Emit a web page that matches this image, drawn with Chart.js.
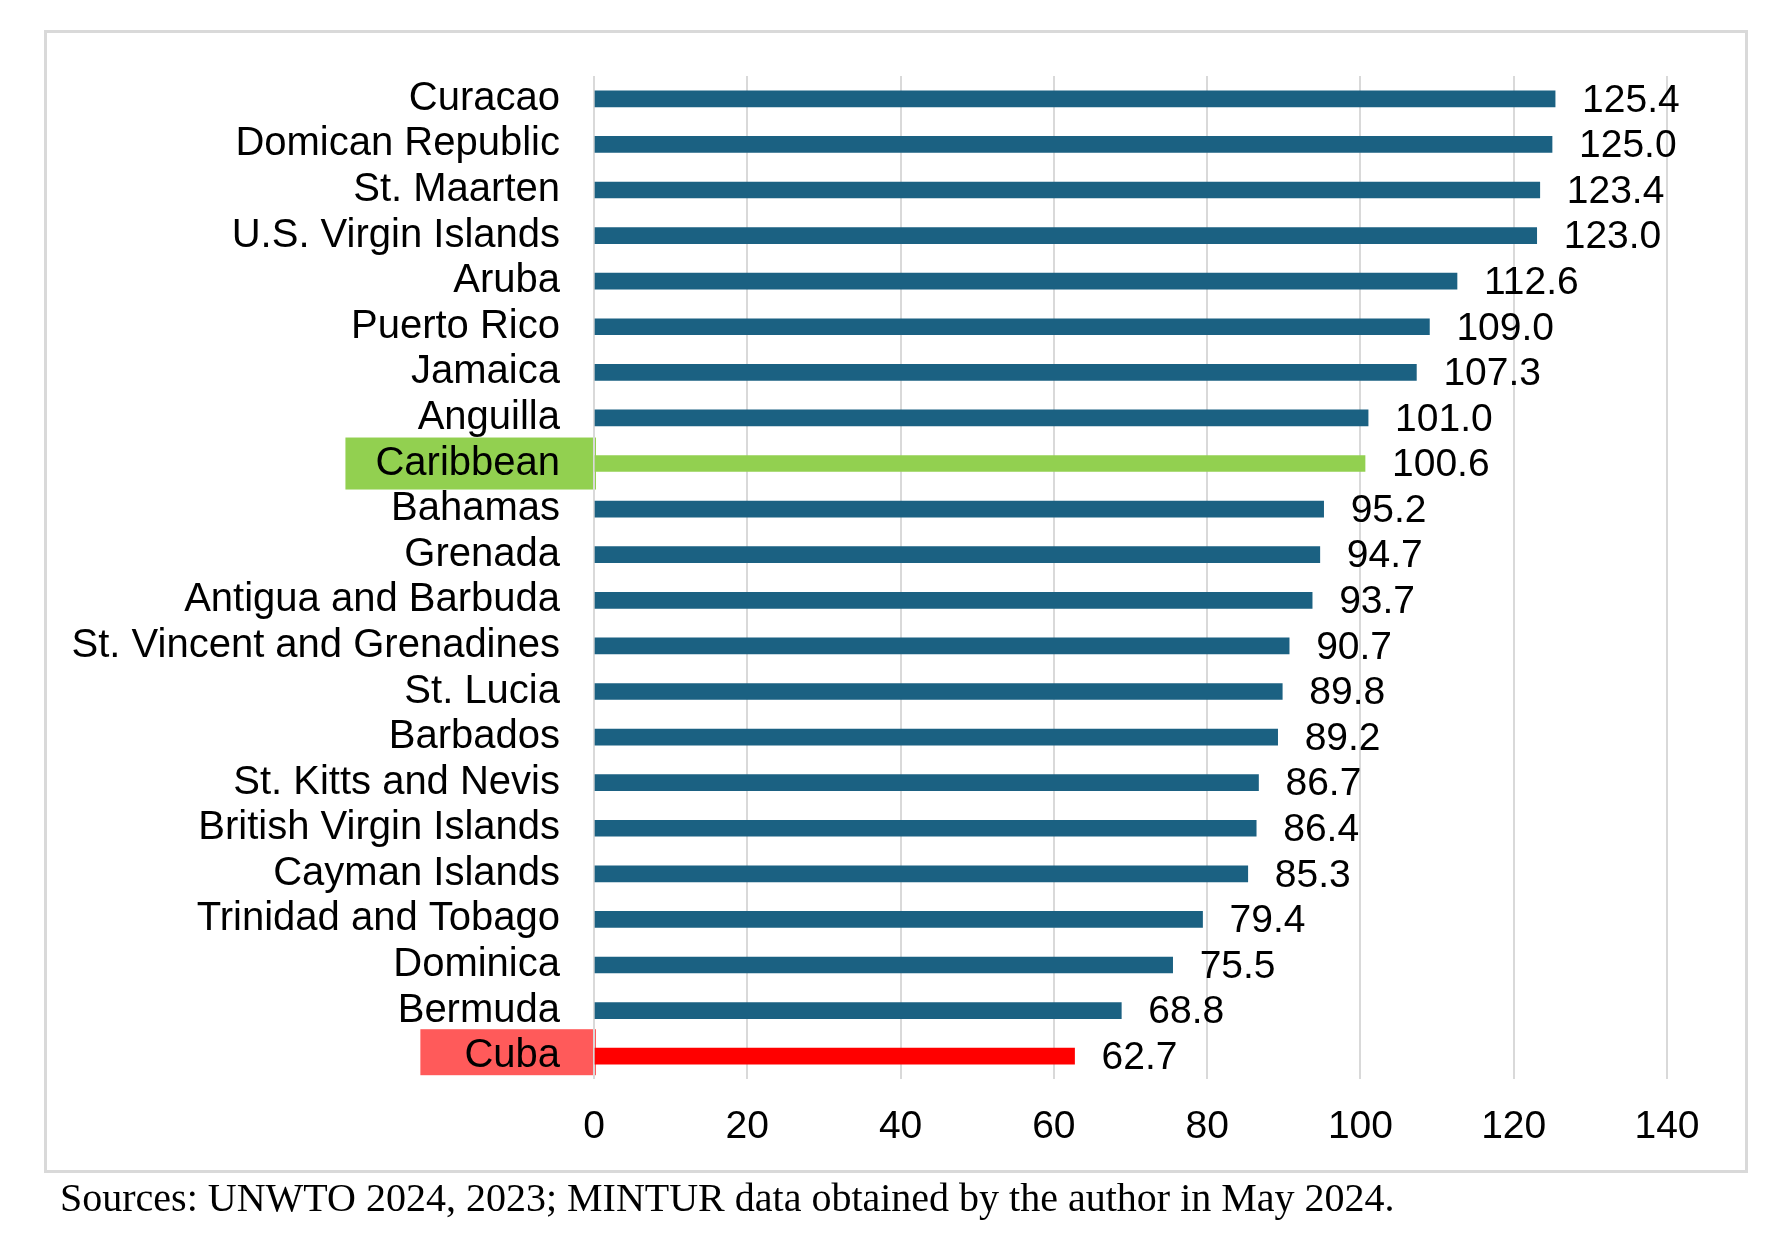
<!DOCTYPE html>
<html>
<head>
<meta charset="utf-8">
<script src="https://cdn.jsdelivr.net/npm/chart.js@4/dist/chart.umd.min.js"></script>
<style>
	body { margin: 0; background: #fff; }
	#page { position: relative; width: 1788px; height: 1236px; overflow: hidden; }
	#frame { position: absolute; left: 44px; top: 30px; width: 1704px; height: 1143px; box-sizing: border-box; border: 3px solid #d9d9d9; }
	#chart { position: absolute; left: 0; top: 0; }
	#source { position: absolute; left: 60px; top: 1174px; font-family: "Liberation Serif", "Times New Roman", serif; font-size: 40px; color: #000; white-space: nowrap; }
</style>
</head>
<body>
<div id="page">
	<div id="frame"></div>
	<canvas id="chart" width="1788" height="1236"></canvas>
	<div id="source">Sources: UNWTO 2024, 2023; MINTUR data obtained by the author in May 2024.</div>
</div>
<script>
var countries = ["Curacao", "Domican Republic", "St. Maarten", "U.S. Virgin Islands", "Aruba", "Puerto Rico",
	"Jamaica", "Anguilla", "Caribbean", "Bahamas", "Grenada", "Antigua and Barbuda",
	"St. Vincent and Grenadines", "St. Lucia", "Barbados", "St. Kitts and Nevis",
	"British Virgin Islands", "Cayman Islands", "Trinidad and Tobago", "Dominica", "Bermuda", "Cuba"];
var values = [125.4, 125.0, 123.4, 123.0, 112.6, 109.0, 107.3, 101.0, 100.6, 95.2, 94.7, 93.7,
	90.7, 89.8, 89.2, 86.7, 86.4, 85.3, 79.4, 75.5, 68.8, 62.7];
var xTicks = [0, 20, 40, 60, 80, 100, 120, 140];

var barColor = "#1b6182";
var highlights = {
	"Caribbean": { bar: "#92d050", box: "#92d050", pad: 30, height: 52, shift: 0 },
	"Cuba": { bar: "#ff0000", box: "#ff5a5a", pad: 44, height: 46, shift: -4 }
};

var colors = countries.map(function(c){
	return highlights[c] ? highlights[c].bar : barColor;
});

// boxes behind the highlighted category labels
var labelBoxes = {
	id: "labelBoxes",
	beforeDraw: function(chart){
		var ctx = chart.ctx;
		var y = chart.scales.y;
		var left = chart.chartArea.left;
		ctx.save();
		ctx.font = "40px 'Liberation Sans', Arial, sans-serif";
		for (var i in countries) {
			var h = highlights[countries[i]];
			if (!h) continue;
			var w = ctx.measureText(countries[i]).width;
			var cy = y.getPixelForValue(Number(i)) + h.shift;
			var x0 = left - 34 - w - h.pad;
			ctx.fillStyle = h.box;
			ctx.fillRect(x0, cy - h.height / 2, left + 2 - x0, h.height);
		};
		ctx.restore();
	}
};

// value labels at the end of each bar
var valueLabels = {
	id: "valueLabels",
	afterDatasetsDraw: function(chart){
		var ctx = chart.ctx;
		var meta = chart.getDatasetMeta(0);
		ctx.save();
		ctx.font = "39px 'Liberation Sans', Arial, sans-serif";
		ctx.fillStyle = "#000";
		ctx.textAlign = "left";
		ctx.textBaseline = "middle";
		meta.data.forEach(function(bar, i){
			ctx.fillText(values[i].toFixed(1), bar.x + 27, bar.y + 2);
		});
		ctx.restore();
	}
};

var ctx = document.getElementById("chart");
var myChart = new Chart(ctx, {
	type: "bar",
	data: {
		labels: countries,
		datasets: [{
			data: values,
			backgroundColor: colors,
			barThickness: 16
		}]
	},
	plugins: [labelBoxes, valueLabels],
	options: {
		indexAxis: "y",
		responsive: false,
		animation: false,
		layout: { padding: { top: 76, right: 121, left: 0, bottom: 0 } },
		plugins: {
			legend: { display: false },
			tooltip: { enabled: false }
		},
		scales: {
			x: {
				min: 0,
				max: 140,
				afterBuildTicks: function(axis){
					axis.ticks = xTicks.map(function(v){ return { value: v }; });
				},
				afterFit: function(axis){ axis.height = 157; },
				grid: { color: "#d9d9d9", lineWidth: 2, drawTicks: false },
				border: { display: false },
				ticks: {
					padding: 25,
					color: "#000",
					font: { family: "'Liberation Sans', Arial, sans-serif", size: 39 }
				}
			},
			y: {
				afterFit: function(axis){ axis.width = 594; },
				grid: { display: false, drawTicks: false },
				border: { display: false },
				ticks: {
					padding: 34,
					color: "#000",
					autoSkip: false,
					font: { family: "'Liberation Sans', Arial, sans-serif", size: 40 }
				}
			}
		}
	}
});
</script>
</body>
</html>
